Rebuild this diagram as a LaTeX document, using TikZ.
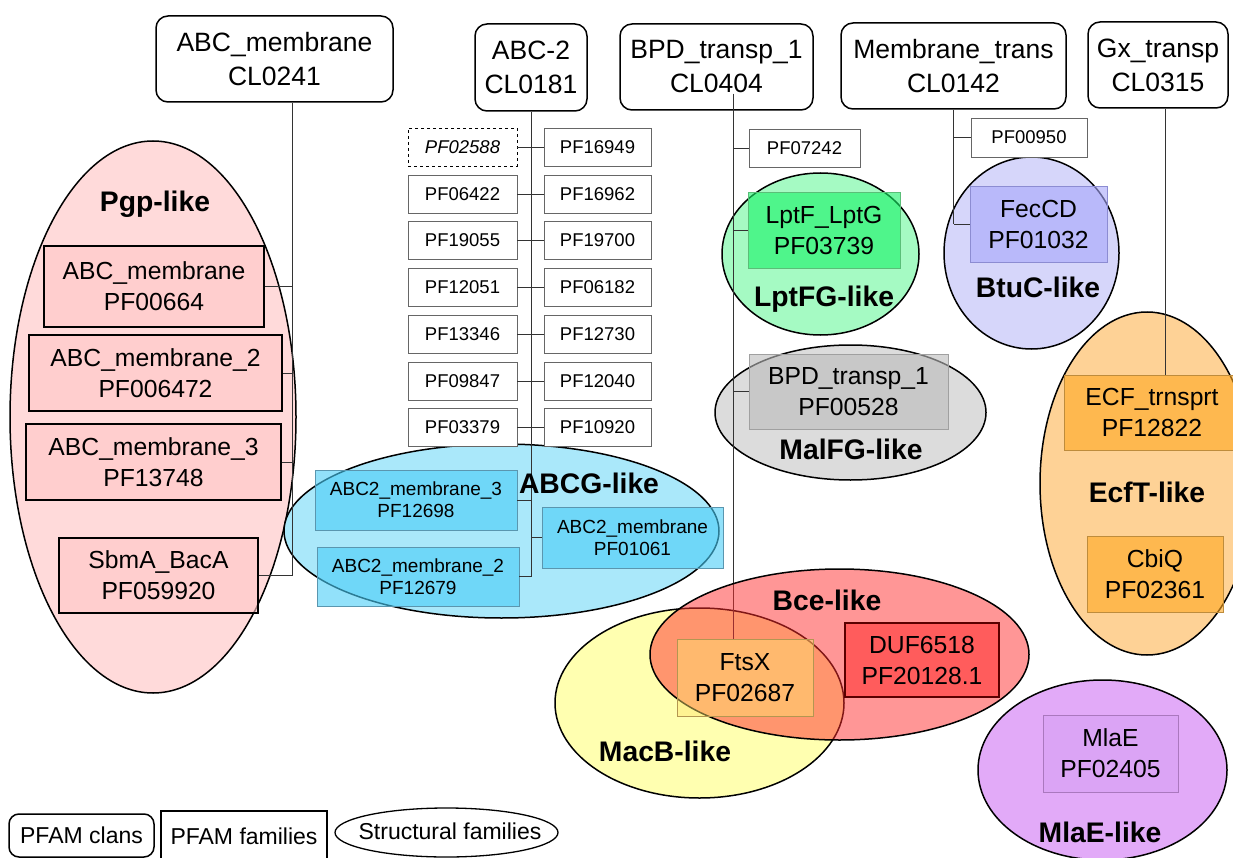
\documentclass[tikz,border=0pt]{standalone}
\usepackage{fontspec}
\setmainfont{Liberation Sans}
\usetikzlibrary{shapes.geometric}
\newcommand{\myfs}[2]{\fontsize{#1}{#2}\selectfont}
\definecolor{pgpE}{RGB}{255,218,218}
\definecolor{pgpB}{RGB}{255,198,198}
\definecolor{abcgE}{RGB}{170,232,250}
\definecolor{abcgB}{RGB}{73,205,247}
\definecolor{abcgD}{RGB}{90,150,175}
\definecolor{lptE}{RGB}{165,250,195}
\definecolor{lptB}{RGB}{23,242,103}
\definecolor{lptD}{RGB}{90,190,120}
\definecolor{btuE}{RGB}{214,214,250}
\definecolor{btuB}{RGB}{166,166,250}
\definecolor{btuD}{RGB}{140,140,210}
\definecolor{malE}{RGB}{220,220,220}
\definecolor{malB}{RGB}{187,187,187}
\definecolor{malD}{RGB}{160,160,160}
\definecolor{ecfE}{RGB}{254,210,150}
\definecolor{ecfB}{RGB}{255,168,33}
\definecolor{ecfD}{RGB}{190,140,60}
\definecolor{mlaE}{RGB}{226,170,248}
\definecolor{mlaB}{RGB}{215,160,243}
\definecolor{mlaD}{RGB}{170,120,190}
\definecolor{macbE}{RGB}{255,255,176}
\definecolor{bceC}{RGB}{255,45,45}
\definecolor{ftsB}{RGB}{255,230,110}
\definecolor{ftsD}{RGB}{180,150,80}
\definecolor{dufB}{RGB}{255,53,53}
\definecolor{dufD}{RGB}{90,0,0}
\begin{document}
\begin{tikzpicture}[x=1pt,y=-1pt,
  clan/.style={draw, line width=1.5pt, rounded corners=12pt, fill=white, inner sep=0pt, align=center, font=\myfs{26.5}{34}},
  fam/.style={inner sep=0pt, align=center, font=\myfs{24.7}{31}, fill opacity=0.6, text opacity=1, line width=0.9pt},
  sfbox/.style={fam, font=\myfs{19}{22}},
  pgpbox/.style={fam, draw=black, line width=1.6pt, fill=pgpB},
  pf/.style={draw=black!60, line width=0.8pt, fill=white, inner sep=0pt, minimum width=109, minimum height=38, font=\myfs{18.5}{22}},
  sfam/.style={ellipse, draw, line width=1.5pt, inner sep=0pt},
  lab/.style={anchor=base, inner sep=0pt, font=\bfseries\myfs{28.3}{32}},
  conn/.style={draw=black!80, line width=0.8pt},
  leg/.style={font=\myfs{23}{26}, inner sep=0pt}
]
\clip (0,0) rectangle (1233,858);
\useasboundingbox (0,0) rectangle (1233,858);

% structural families (ellipses)
\node[sfam, fill=pgpE, minimum width=286, minimum height=552] (pgp) at (153,417) {};
\node[sfam, fill=abcgE, minimum width=435, minimum height=174] (abcg) at (501.5,531) {};
\node[sfam, fill=lptE, minimum width=197, minimum height=162] (lptfg) at (820.5,254) {};
\node[sfam, fill=btuE, minimum width=175, minimum height=192] (btuc) at (1031.5,253) {};
\node[sfam, fill=malE, minimum width=271, minimum height=135] (malfg) at (850.5,412.5) {};
\node[sfam, fill=ecfE, minimum width=214, minimum height=343] (ecft) at (1147,483.5) {};
\node[sfam, fill=mlaE, minimum width=249, minimum height=180] (mlae) at (1102.5,770) {};
\node[sfam, fill=macbE, minimum width=289, minimum height=190] (macb) at (699.5,703) {};

% clans
\node[clan, minimum width=237, minimum height=86] (cl1) at (274.5,59) {ABC\_membrane\\CL0241};
\node[clan, minimum width=112, minimum height=87] (cl2) at (531,67.5) {ABC-2\\CL0181};
\node[clan, minimum width=193, minimum height=86] (cl3) at (716.5,67) {BPD\_transp\_1\\CL0404};
\node[clan, minimum width=225, minimum height=86] (cl4) at (953.5,66) {Membrane\_trans\\CL0142};
\node[clan, minimum width=140, minimum height=86] (cl5) at (1158,65) {Gx\_transp\\CL0315};

% Pgp families
\node[pgpbox, minimum width=220, minimum height=81] (f1) at (154,286.5) {ABC\_membrane\\PF00664};
\node[pgpbox, minimum width=253, minimum height=76] (f2) at (155.5,373) {ABC\_membrane\_2\\PF006472};
\node[pgpbox, minimum width=255, minimum height=76] (f3) at (153.5,462) {ABC\_membrane\_3\\PF13748};
\node[pgpbox, minimum width=199, minimum height=75] (f4) at (158.5,575.5) {SbmA\_BacA\\PF059920};

% ABC-2 small families
\node[pf, dashed, draw=black, font=\itshape\myfs{18.5}{22}] (L1) at (462.5,147) {PF02588};
\node[pf] (L2) at (462.5,194) {PF06422};
\node[pf] (L3) at (462.5,240) {PF19055};
\node[pf] (L4) at (462.5,287) {PF12051};
\node[pf] (L5) at (462.5,334) {PF13346};
\node[pf] (L6) at (462.5,381) {PF09847};
\node[pf] (L7) at (462.5,427) {PF03379};
\node[pf, minimum width=107] (R1) at (597.5,147) {PF16949};
\node[pf, minimum width=107] (R2) at (597.5,194) {PF16962};
\node[pf, minimum width=107] (R3) at (597.5,240) {PF19700};
\node[pf, minimum width=107] (R4) at (597.5,287) {PF06182};
\node[pf, minimum width=107] (R5) at (597.5,334) {PF12730};
\node[pf, minimum width=107] (R6) at (597.5,381) {PF12040};
\node[pf, minimum width=107] (R7) at (597.5,427) {PF10920};

% ABCG families
\node[sfbox, fill=abcgB, draw=abcgD, minimum width=202, minimum height=60] (g1) at (416,500) {ABC2\_membrane\_3\\PF12698};
\node[sfbox, fill=abcgB, draw=abcgD, minimum width=202, minimum height=59] (g2) at (418,576.5) {ABC2\_membrane\_2\\PF12679};
\node[sfbox, fill=abcgB, draw=abcgD, minimum width=181, minimum height=61] (g3) at (632.5,537.5) {ABC2\_membrane\\PF01061};

% BPD families
\node[pf, minimum width=111] (p7242) at (804.5,148) {PF07242};
\node[fam, fill=lptB, draw=lptD, minimum width=152, minimum height=76] (lpt) at (824,230) {LptF\_LptG\\PF03739};
\node[fam, fill=malB, draw=malD, minimum width=199, minimum height=75] (bpd) at (848.5,391.5) {BPD\_transp\_1\\PF00528};

% Membrane_trans families
\node[pf, minimum width=116, minimum height=39] (p950) at (1029,137.5) {PF00950};
\node[fam, fill=btuB, draw=btuD, minimum width=137, minimum height=76] (fec) at (1038.5,224) {FecCD\\PF01032};

% Gx families
\node[fam, fill=ecfB, draw=ecfD, minimum width=176, minimum height=75] (ecf) at (1152,412.5) {ECF\_trnsprt\\PF12822};
\node[fam, fill=ecfB, draw=ecfD, minimum width=136, minimum height=76] (cbiq) at (1155,574) {CbiQ\\PF02361};
\node[fam, fill=mlaB, draw=mlaD, minimum width=135, minimum height=77] (mla) at (1110.5,753.5) {MlaE\\PF02405};

% connectors
\coordinate (j1) at ([xshift=17.5pt]cl1.south);
\coordinate (j2) at (cl2.south);
\coordinate (j3) at ([xshift=16.5pt,yshift=17pt]cl3.south);
\coordinate (j3b) at (733,639);
\coordinate (j4) at (cl4.south);
\coordinate (j5) at ([xshift=7pt]cl5.south);

\draw[conn] (j1) -- (j1 |- f4.east);
\foreach \f in {f1,f2,f3,f4} \draw[conn] (\f.east) -- (\f.east -| j1);

\draw[conn] (j2) -- (j2 |- g2.east);
\foreach \k in {1,...,7} \draw[conn] (L\k.east) -- (R\k.west);
\draw[conn] (g1.east) -- (g1.east -| j2);
\draw[conn] (g2.east) -- (g2.east -| j2);
\draw[conn] (g3.west) -- (g3.west -| j2);

\draw[conn] (j3) -- (j3b);
\foreach \f in {p7242,lpt,bpd} \draw[conn] (\f.west) -- (\f.west -| j3);

\draw[conn] (j4) -- (j4 |- fec.west);
\foreach \f in {p950,fec} \draw[conn] (\f.west) -- (\f.west -| j4);

\draw[conn] (j5) -- (j5 |- ecf.north);

% Bce (translucent, over MacB)
\node[sfam, fill=bceC, fill opacity=0.5, minimum width=379, minimum height=171] (bce) at (839.5,654.5) {};
\node[fam, fill=ftsB, fill opacity=0.45, draw=ftsD, minimum width=136, minimum height=77] (fts) at (745,677.5) {FtsX\\PF02687};
\node[fam, fill=dufB, draw=dufD, line width=1.6pt, minimum width=154, minimum height=74] (duf) at (922,660) {DUF6518\\PF20128.1};

% labels
\node[lab] (pgpl) at (155,212) {Pgp-like};
\node[lab] (abcgl) at (589,493) {ABCG-like};
\node[lab] (lptl) at (824,306) {LptFG-like};
\node[lab] (btul) at (1038,298) {BtuC-like};
\node[lab] (mall) at (851,459) {MalFG-like};
\node[lab] (ecfl) at (1147,502) {EcfT-like};
\node[lab] (bcel) at (827,610) {Bce-like};
\node[lab] (macbl) at (665,761) {MacB-like};
\node[lab] (mlal) at (1100,842) {MlaE-like};

% legend
\node[clan, rounded corners=10pt, leg, minimum width=145, minimum height=43] (lg1) at (81.5,835.5) {PFAM clans};
\node[draw, line width=1.3pt, leg, minimum width=166, minimum height=50] (lg2) at (244,836) {PFAM families};
\node[sfam, line width=1.3pt, minimum width=223, minimum height=49] (lg3) at (446.5,832.5) {};
\node[leg] (lg3t) at (450,831) {Structural families};
\end{tikzpicture}
\end{document}
